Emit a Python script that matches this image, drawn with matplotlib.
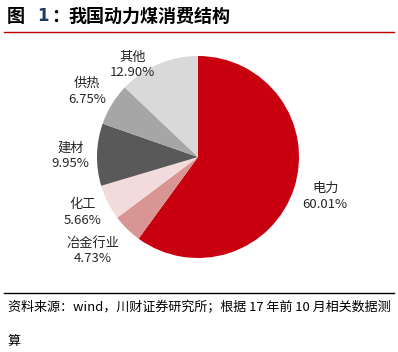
import matplotlib.pyplot as plt
from matplotlib.lines import Line2D

plt.rcParams['font.family'] = ['Noto Sans CJK SC', 'DejaVu Sans']

# data
categories = ["电力", "冶金行业", "化工", "建材", "供热", "其他"]
shares = [60.01, 4.73, 5.66, 9.95, 6.75, 12.90]
colors = ["#C8000F", "#D99594", "#F2DCDB", "#595959", "#A6A6A6", "#D9D9D9"]

# label positions (pie radius = 1)
label_pos = [(1.26, -0.39), (-1.04, -0.93), (-1.14, -0.55),
             (-1.26, 0.01), (-1.10, 0.65), (-0.65, 0.91)]

fig = plt.figure(figsize=(3.98, 3.52), dpi=100)

# title and rules
fig.text(7 / 398, 1 - 16 / 352, "图", fontsize=13, fontweight="bold",
         va="center", ha="left", color="black")
fig.text(37 / 398, 1 - 16 / 352, "1", fontsize=12, fontweight="bold",
         va="center", ha="left", color="#1F3864", family="DejaVu Sans")
fig.text(51 / 398, 1 - 16 / 352, "：", fontsize=13, fontweight="bold",
         va="center", ha="left", color="black")
fig.text(68 / 398, 1 - 16 / 352, "我国动力煤消费结构", fontsize=13,
         fontweight="bold", va="center", ha="left", color="black")
fig.add_artist(Line2D([4 / 398, 394 / 398], [1 - 32 / 352] * 2,
                      color="#C00000", lw=1.0))
fig.add_artist(Line2D([4 / 398, 394 / 398], [1 - 293 / 352] * 2,
                      color="black", lw=1.0))

# pie
ax = fig.add_axes([97 / 398, 94 / 352, 202 / 398, 202 / 352])
wedges, _ = ax.pie(shares, colors=colors, startangle=90, counterclock=False,
                   radius=1.0, wedgeprops=dict(linewidth=0))
ax.set_xlim(-1, 1)
ax.set_ylim(-1, 1)
ax.set_aspect("equal")
ax.axis("off")

for name, val, (x, y) in zip(categories, shares, label_pos):
    ax.text(x, y, f"{name}\n{val:.2f}%", ha="center", va="center",
            fontsize=9.5, color="#262626", linespacing=1.25, clip_on=False)

# source note
fig.text(8 / 398, 1 - 308 / 352,
         "资料来源：wind，川财证券研究所；根据 17 年前 10 月相关数据测",
         fontsize=9.4, style="italic", va="center", ha="left")
fig.text(8 / 398, 1 - 341 / 352, "算", fontsize=9.4, style="italic",
         va="center", ha="left")

fig.savefig("out.png", dpi=100)
